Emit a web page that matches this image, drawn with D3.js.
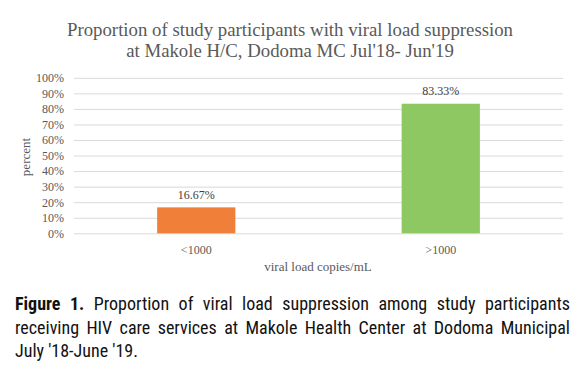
<!DOCTYPE html>
<html><head><meta charset="utf-8">
<script src="https://cdn.jsdelivr.net/npm/d3@7"></script>
<style>
body{margin:0;background:#fff;}
#cap{position:absolute;left:15px;top:292px;width:555px;font-family:"Liberation Sans Narrow","Roboto Condensed","Arial Narrow",sans-serif;font-stretch:condensed;font-size:18px;line-height:23.5px;color:#111;}
#cap div{white-space:nowrap;}
#cap div.j{text-align:justify;text-align-last:justify;}
</style></head>
<body>
<svg id="chart" width="583" height="290" style="position:absolute;left:0;top:0"></svg>
<div id="cap"></div>
<script>
const categories = ["<1000", ">1000"];
const values = [16.67, 83.33];
const barColors = ["#F07F3A", "#8DC862"];
const yTicks = [0,10,20,30,40,50,60,70,80,90,100];
const titleLines = ["Proportion of study participants with viral load suppression", "at Makole H/C, Dodoma MC Jul'18- Jun'19"];
const yTitle = "percent";
const xTitle = "viral load copies/mL";
const captionBold = "Figure 1.";
const captionLines = ["Proportion of viral load suppression among study participants", "receiving HIV care services at Makole Health Center at Dodoma Municipal", "July '18-June '19."];

const svg = d3.select("#chart");
const serif = '"Liberation Serif","Times New Roman",serif';
const grey = "#595959";
const L = 74, R = 563, T = 77.8, B = 233.3;

const x = d3.scaleBand().domain(categories).range([L, R]).paddingInner(0.68).paddingOuter(0.34);
const y = d3.scaleLinear().domain([0, 100]).range([B, T]);

// title
svg.append("g").selectAll("text").data(titleLines).join("text")
  .attr("x", 290).attr("y", (d,i) => 35.5 + i*21)
  .attr("text-anchor", "middle").attr("font-family", serif).attr("font-size", 18.8)
  .attr("fill", grey).text(d => d);

// grid
const yAxis = d3.axisLeft(y).tickValues(yTicks).tickFormat(d => d + "%").tickSize(-(R - L)).tickPadding(10);
const gy = svg.append("g").attr("transform", `translate(${L},0)`).call(yAxis);
gy.select(".domain").remove();
gy.selectAll(".tick line").attr("stroke", "#d9d9d9").attr("stroke-width", 1);
gy.selectAll(".tick text").attr("font-family", serif).attr("font-size", 12).attr("fill", grey);

// bars
svg.append("g").selectAll("rect").data(values).join("rect")
  .attr("x", (d,i) => x(categories[i])).attr("width", x.bandwidth())
  .attr("y", d => y(d)).attr("height", d => B - y(d))
  .attr("fill", (d,i) => barColors[i]);

// labels
svg.append("g").selectAll("text").data(values).join("text")
  .attr("x", (d,i) => x(categories[i]) + x.bandwidth()/2)
  .attr("y", d => y(d) - 8.5).attr("text-anchor", "middle")
  .attr("font-family", serif).attr("font-size", 12).attr("fill", "#404040")
  .text(d => d.toFixed(2) + "%");

// x axis labels
const xAxis = d3.axisBottom(x).tickSize(0).tickPadding(12);
const gx = svg.append("g").attr("transform", `translate(0,${B})`).call(xAxis);
gx.select(".domain").remove();
gx.selectAll(".tick text").attr("font-family", serif).attr("font-size", 12).attr("fill", grey);

svg.append("text").attr("x", 318).attr("y", 270.5).attr("text-anchor", "middle")
  .attr("font-family", serif).attr("font-size", 13).attr("fill", grey).text(xTitle);
svg.append("text").attr("transform", "translate(29.5,157) rotate(-90)").attr("text-anchor", "middle")
  .attr("font-family", serif).attr("font-size", 13).attr("fill", grey).text(yTitle);

// caption
const cap = d3.select("#cap");
captionLines.forEach((line, i) => {
  const div = cap.append("div").attr("class", i < captionLines.length - 1 ? "j" : null);
  if (i === 0) { div.append("b").text(captionBold); div.append("span").text(" "); }
  line.split(" ").forEach((w, k, arr) => {
    div.append("span").text(w);
    if (k < arr.length - 1) div.append(() => document.createTextNode(" "));
  });
});
</script>
</body></html>
